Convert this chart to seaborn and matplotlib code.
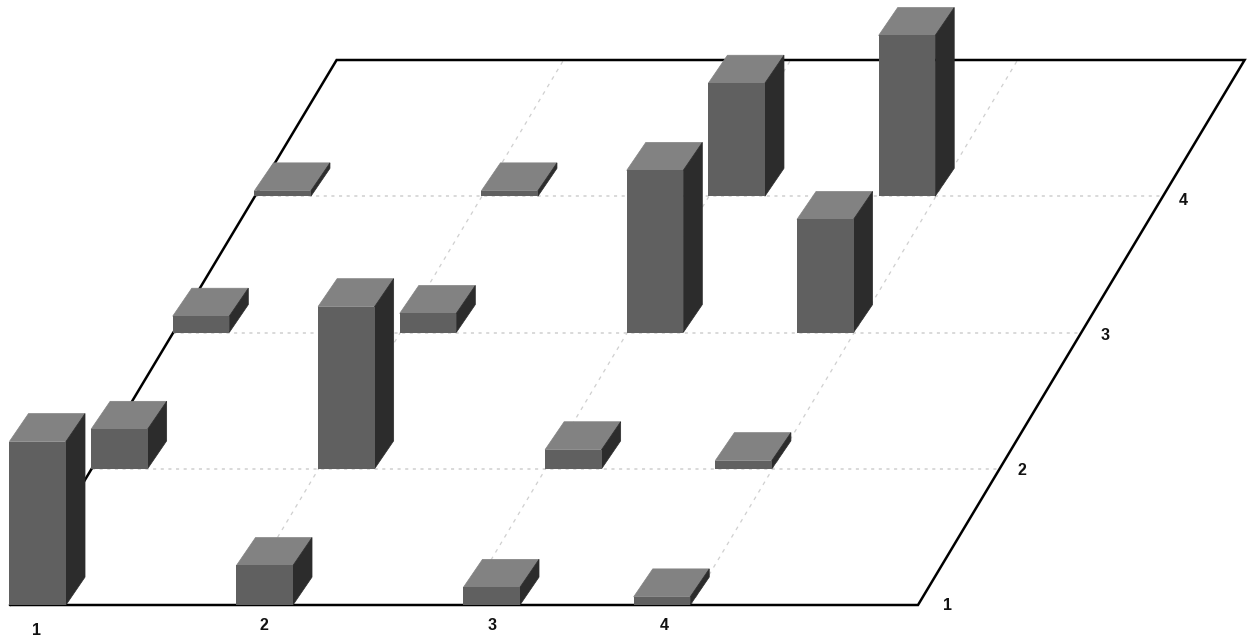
# -*- coding: utf-8 -*-
import matplotlib
matplotlib.use("Agg")
import matplotlib.pyplot as plt
import pandas as pd
import seaborn as sns

# centre of each column of bars and row number on the floor
col_centers = [0.122, 1.122, 2.122, 2.872]
row_bases = [0, 1, 2, 3]
tick_labels = ["1", "2", "3", "4"]

# bar heights, one list per row, front row first
heights_row1 = [1.20, 0.29, 0.13, 0.06]
heights_row2 = [0.29, 1.19, 0.14, 0.06]
heights_row3 = [0.12, 0.14, 1.19, 0.83]
heights_row4 = [0.04, 0.04, 0.83, 1.18]
all_heights = [heights_row1, heights_row2, heights_row3, heights_row4]

SHEAR = 0.3597  # sideways shift of the floor per row
BAR_W = 0.249
DEPTH_X = 0.084
DEPTH_Y = 0.205
PX_X = 227.0
PX_Y = 136.25

FRONT = "#606060"
TOP = "#828282"
SIDE = "#2c2c2c"
LABEL = "#111111"

sns.set_theme(style="white")
plt.rcParams["font.family"] = ["Liberation Sans", "DejaVu Sans"]

fig = plt.figure(figsize=(12.55, 6.43), dpi=100)
ax = fig.add_axes([0, 0, 1, 1])

# floor grid
n_cells = len(row_bases)
for i in range(1, n_cells):
    ax.plot([0 + i * SHEAR, n_cells + i * SHEAR], [i, i], color="#cfcfcf", lw=1.1,
            dashes=(2, 3), zorder=1)
    ax.plot([i, i + n_cells * SHEAR], [0, n_cells], color="#cfcfcf", lw=0.9,
            dashes=(3, 4), zorder=1)
floor_x = [0, n_cells, n_cells + n_cells * SHEAR, n_cells * SHEAR, 0]
floor_y = [0, 0, n_cells, n_cells, 0]
ax.plot(floor_x, floor_y, color="black", lw=1.8, solid_joinstyle="miter", zorder=2)

# bars, back row first so the front ones cover them
for row in reversed(row_bases):
    z = 10 + (n_cells - row) * 2
    df = pd.DataFrame({
        "x": [c + row * SHEAR for c in col_centers],
        "h": all_heights[row],
    })
    sns.barplot(data=df, x="x", y="h", native_scale=True, width=BAR_W / 0.75,
                color=FRONT, saturation=1, linewidth=0, errorbar=None,
                bottom=row, zorder=z, ax=ax)
    for x, h in zip(df["x"], df["h"]):
        x0 = x - BAR_W / 2
        x1 = x + BAR_W / 2
        y0 = row
        y1 = row + h
        # thin same colour edge closes the seam against the front face
        ax.fill([x0, x1, x1 + DEPTH_X, x0 + DEPTH_X],
                [y1, y1, y1 + DEPTH_Y, y1 + DEPTH_Y], facecolor=TOP, edgecolor=TOP,
                lw=0.5, zorder=z - 1)
        ax.fill([x1, x1 + DEPTH_X, x1 + DEPTH_X, x1],
                [y0, y0 + DEPTH_Y, y1 + DEPTH_Y, y1], facecolor=SIDE, edgecolor=SIDE,
                lw=0.5, zorder=z - 1)

# labels along the front and right edges
bottom_x = [0.115, 1.12, 2.125, 2.88]
bottom_y = [-0.185, -0.15, -0.15, -0.15]
right_shift = [0.13, 0.10, 0.105, 0.09]
right_drop = [0.0, 0.01, 0.02, 0.03]
for bx, by, lab in zip(bottom_x, bottom_y, tick_labels):
    ax.text(bx, by, lab, ha="center", va="center", fontsize=11.5,
            fontweight="bold", color=LABEL)
for row, lab, sh, dr in zip(row_bases, tick_labels, right_shift, right_drop):
    ax.text(n_cells + row * SHEAR + sh, row - dr, lab, ha="center", va="center",
            fontsize=11.5, fontweight="bold", color=LABEL)

ax.set_xlim(-10 / PX_X, 1245 / PX_X)
ax.set_ylim(-38 / PX_Y, 605 / PX_Y)
ax.set_axis_off()

fig.savefig("out.png", dpi=100)
plt.close(fig)
